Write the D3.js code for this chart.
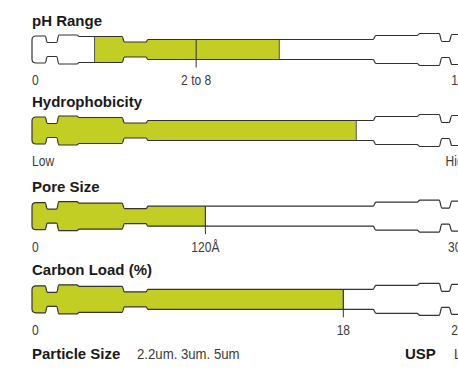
<!DOCTYPE html>
<html><head><meta charset="utf-8">
<script src="https://cdn.jsdelivr.net/npm/d3@7"></script>
<style>
html,body{margin:0;padding:0;background:#fff;}
svg{display:block;}
</style></head>
<body>
<script>
// ---- data ----
const rowTitles = ["pH Range", "Hydrophobicity", "Pore Size", "Carbon Load (%)"];
const scaleMax = [14, 1, 300, 25];
const fillLow = [2, 0, 0, 0];
const fillHigh = [8, 0.75, 120, 18];
const startLabels = ["0", "Low", "0", "0"];
const endLabels = ["14", "High", "300", "25"];
const tickValues = [5.3, null, 120, 18];
const tickLabels = ["2 to 8", "", "120Å", "18"];
const footerLabels = ["Particle Size", "USP"];
const footerValues = ["2.2um. 3um. 5um", "L1"];

// ---- layout ----
const W = 458, H = 370;
const rowCY = [49.5, 130.5, 216.2, 299.3];
const green = "#c2ce23";
const ink = "#333";
const titleFont = "'Liberation Sans', Arial, sans-serif";
const labelFont = "'Liberation Sans', Arial, sans-serif";
const narrow = 0.86;

const svg = d3.select("body").append("svg").attr("width", W).attr("height", H);

const x = d3.scaleLinear().range([33, 464]);

// column profile: [x0, x1, half-height]
const profile = [
  [32, 45, 13.5],
  [47.5, 56.5, 7],
  [59, 77, 14.5],
  [79, 122, 13],
  [124.5, 146, 7.5],
  [148, 373, 10],
  [376, 417, 14],
  [420, 439, 16],
  [442, 449, 8],
  [452, 520, 15]
];

function columnPath(cy) {
  const r = 4;
  const p = d3.path();
  const s0 = profile[0];
  p.moveTo(s0[0], cy - s0[2] + r);
  p.quadraticCurveTo(s0[0], cy - s0[2], s0[0] + r, cy - s0[2]);
  for (let i = 0; i < profile.length; i++) {
    const s = profile[i];
    p.lineTo(s[1], cy - s[2]);
    if (i < profile.length - 1) {
      const n = profile[i + 1];
      const m = (s[1] + n[0]) / 2;
      p.bezierCurveTo(m, cy - s[2], m, cy - n[2], n[0], cy - n[2]);
    }
  }
  const last = profile[profile.length - 1];
  p.lineTo(last[1], cy + last[2]);
  for (let i = profile.length - 1; i >= 0; i--) {
    const s = profile[i];
    if (i === 0) {
      p.lineTo(s[0] + r, cy + s[2]);
      p.quadraticCurveTo(s[0], cy + s[2], s[0], cy + s[2] - r);
    } else {
      p.lineTo(s[0], cy + s[2]);
      const pr = profile[i - 1];
      const m = (pr[1] + s[0]) / 2;
      p.bezierCurveTo(m, cy + s[2], m, cy + pr[2], pr[1], cy + pr[2]);
    }
  }
  p.closePath();
  return p.toString();
}

function narrowText(sel, px, py, txt, anchor, size, scale) {
  return sel.append("text")
    .attr("transform", `translate(${px},${py}) scale(${scale},1)`)
    .attr("text-anchor", anchor || "start")
    .attr("font-family", labelFont).attr("font-size", size)
    .attr("fill", "#3c3c3c").text(txt);
}

rowTitles.forEach((title, i) => {
  const cy = rowCY[i];
  x.domain([0, scaleMax[i]]);
  const g = svg.append("g");
  const d = columnPath(cy);

  g.append("text").attr("x", 32).attr("y", cy - 24)
    .attr("font-family", titleFont).attr("font-weight", "bold").attr("font-size", 15)
    .attr("fill", "#1a1a1a").text(title);

  const clipId = "clip" + i;
  g.append("clipPath").attr("id", clipId).append("path").attr("d", d);

  g.append("path").attr("d", d).attr("fill", "#fff");

  const x0 = fillLow[i] === 0 ? 0 : x(fillLow[i]);
  const x1 = x(fillHigh[i]);
  const cg = g.append("g").attr("clip-path", `url(#${clipId})`);
  cg.append("rect").attr("x", x0).attr("y", cy - 30).attr("width", x1 - x0).attr("height", 60)
    .attr("fill", green);
  [fillLow[i] === 0 ? null : x0, x1].forEach(px => {
    if (px === null) return;
    cg.append("line").attr("x1", px).attr("x2", px).attr("y1", cy - 30).attr("y2", cy + 30)
      .attr("stroke", "#555").attr("stroke-width", 1);
  });

  g.append("path").attr("d", d).attr("fill", "none").attr("stroke", ink).attr("stroke-width", 1.2);

  if (tickValues[i] !== null) {
    const tx = x(tickValues[i]);
    g.append("line").attr("x1", tx).attr("x2", tx).attr("y1", cy - 10).attr("y2", cy + 18)
      .attr("stroke", ink).attr("stroke-width", 1);
  }

  const ly = cy + 35.5;
  narrowText(g, 32, ly, startLabels[i], "start", 14, narrow);
  if (tickValues[i] !== null) {
    narrowText(g, x(tickValues[i]), ly, tickLabels[i], "middle", 14, narrow);
  }
  narrowText(g, x(scaleMax[i]) - 6, ly, endLabels[i], "middle", 14, narrow);
});

// footer
const fy = 359;
const fx = [32, 405];
const vx = [137, 454];
footerLabels.forEach((t, i) => {
  svg.append("text").attr("x", fx[i]).attr("y", fy)
    .attr("font-family", titleFont).attr("font-weight", "bold").attr("font-size", 15)
    .attr("fill", "#1a1a1a").text(t);
  narrowText(svg, vx[i], fy, footerValues[i], "start", 15, 0.88);
});
</script>
</body></html>
